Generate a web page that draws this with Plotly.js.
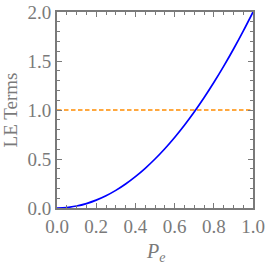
<!DOCTYPE html>
<html><head><meta charset="utf-8">
<script src="https://cdn.plot.ly/plotly-3.0.1.min.js"></script>
<style>html,body{margin:0;padding:0;background:#fff}#c{width:266px;height:265px}</style>
</head><body><div id="c"></div>
<script>
var pe = [0,0.05,0.1,0.15,0.2,0.25,0.3,0.35,0.4,0.45,0.5,0.55,0.6,0.65,0.7,0.75,0.8,0.85,0.9,0.95,1.0];
var leTerm = [0,0.005,0.02,0.045,0.08,0.125,0.18,0.245,0.32,0.405,0.5,0.605,0.72,0.845,0.98,1.125,1.28,1.445,1.62,1.805,2.0];
var refX = [0,1];
var refY = [1,1];
var xTicks = [0,0.2,0.4,0.6,0.8,1.0];
var xTickText = ['0.0','0.2','0.4','0.6','0.8','1.0'];
var yTicks = [0,0.5,1.0,1.5,2.0];
var yTickText = ['0.0','0.5','1.0','1.5','2.0'];
var xTitle = '<i>P</i><sub><i>e</i></sub>';
var yTitle = 'LE Terms';

var gray = '#7a7a7a';
var fontFam = 'Liberation Serif, Times New Roman, serif';
var traces = [
  {x: refX, y: refY, mode:'lines', line:{color:'#FF8C00', width:1.6, dash:'4.5px,2.5px'}, hoverinfo:'skip'},
  {x: pe, y: leTerm, mode:'lines', line:{color:'#0000FF', width:1.7, shape:'spline'}, hoverinfo:'skip'}
];
var axisBase = {
  showgrid:false, zeroline:false, showline:true, linecolor:gray, linewidth:2, mirror:'ticks',
  ticks:'inside', ticklen:5, tickwidth:1, tickcolor:gray,
  tickfont:{family:fontFam, size:19, color:gray}
};
var layout = {
  width:266, height:265, showlegend:false,
  margin:{l:57, r:13, t:12, b:57},
  paper_bgcolor:'#fff', plot_bgcolor:'#fff',
  xaxis: Object.assign({}, axisBase, {
    range:[0,1], tickvals:xTicks, ticktext:xTickText,
    minor:{dtick:0.05, tick0:0, ticks:'inside', ticklen:3, tickcolor:gray, tickwidth:1}
  }),
  yaxis: Object.assign({}, axisBase, {
    range:[0,2], tickvals:yTicks, ticktext:yTickText,
    minor:{dtick:0.1, tick0:0, ticks:'inside', ticklen:3, tickcolor:gray, tickwidth:1},
    title:{text:yTitle, font:{family:fontFam, size:19, color:gray}}
  }),
  annotations:[{text:xTitle, xref:'paper', yref:'paper', x:0.5, y:-0.225, xanchor:'center', yanchor:'middle',
    showarrow:false, font:{family:fontFam, size:20, color:gray}}]
};
Plotly.newPlot('c', traces, layout, {staticPlot:true, displayModeBar:false});
</script></body></html>
